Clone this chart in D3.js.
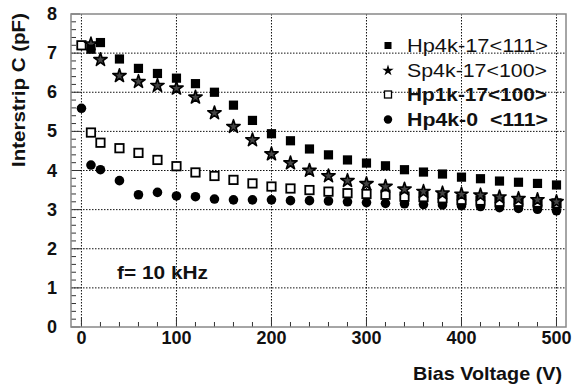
<!DOCTYPE html>
<html><head><meta charset="utf-8">
<script src="https://cdn.jsdelivr.net/npm/d3@7"></script>
<style>body{margin:0;background:#fff;} svg{display:block;font-family:"Liberation Sans",Arial,sans-serif;}</style>
</head><body>
<svg id="c" width="581" height="388"></svg>
<script>
// ---- data ----
const xHp4k17 = [10,20,40,60,80,100,120,140,160,180,200,220,240,260,280,300,320,340,360,380,400,420,440,460,480,500];
const yHp4k17 = [7.10,7.27,6.85,6.61,6.48,6.36,6.22,6.00,5.67,5.28,4.94,4.76,4.55,4.40,4.27,4.19,4.12,4.02,3.96,3.91,3.83,3.79,3.73,3.70,3.67,3.63];
const xSp4k17 = [10,20,40,60,80,100,120,140,160,180,200,220,240,260,280,300,320,340,360,380,400,420,440,460,480,500];
const ySp4k17 = [7.23,6.83,6.42,6.27,6.17,6.10,5.87,5.47,5.12,4.78,4.42,4.19,4.00,3.86,3.74,3.66,3.59,3.52,3.46,3.42,3.39,3.37,3.32,3.28,3.25,3.20];
const xHp1k17 = [0,10,20,40,60,80,100,120,140,160,180,200,220,240,260,280,300,320,340,360,380,400,420,440,460,480,500];
const yHp1k17 = [7.20,4.97,4.71,4.57,4.45,4.27,4.11,3.95,3.86,3.76,3.67,3.59,3.54,3.50,3.46,3.42,3.40,3.38,3.33,3.32,3.29,3.25,3.23,3.20,3.20,3.18,3.16];
const xHp4k0 = [0,10,20,40,60,80,100,120,140,160,180,200,220,240,260,280,300,320,340,360,380,400,420,440,460,480,500];
const yHp4k0 = [5.59,4.14,4.02,3.74,3.38,3.44,3.35,3.33,3.27,3.25,3.25,3.25,3.23,3.23,3.22,3.20,3.18,3.16,3.15,3.13,3.12,3.10,3.08,3.05,3.03,3.01,2.97];
const legendLabels = ["Hp4k-17<111>","Sp4k-17<100>","Hp1k-17<100>","Hp4k-0  <111>"];
const xTicks = [0,100,200,300,400,500];
const yTicks = [0,1,2,3,4,5,6,7,8];

// ---- layout ----
const svg = d3.select("#c");
const L=71, R=566, T=14, B=327;
const x = d3.scaleLinear().domain([-11,510]).range([L,R]);
const y = d3.scaleLinear().domain([0,8]).range([B,T]);

// grid
const g = svg.append("g");
g.selectAll(".gx").data(xTicks).enter().append("line")
  .attr("x1",d=>x(d)).attr("x2",d=>x(d)).attr("y1",T).attr("y2",B)
  .attr("stroke","#111").attr("stroke-width",1).attr("stroke-dasharray","1.5,1.5");
g.selectAll(".gy").data(yTicks.filter(d=>d>0&&d<8)).enter().append("line")
  .attr("x1",L).attr("x2",R).attr("y1",d=>y(d)).attr("y2",d=>y(d))
  .attr("stroke","#111").attr("stroke-width",1).attr("stroke-dasharray","1.5,1.5");

// ticks
const xMinor = d3.range(0,501,20);
g.selectAll(".tx").data(xMinor).enter().append("line")
  .attr("x1",d=>x(d)).attr("x2",d=>x(d)).attr("y1",B).attr("y2",d=>B-(d%100===0?9:5))
  .attr("stroke","#333").attr("stroke-width",1);
const yMinor = d3.range(0,8.001,0.2);
g.selectAll(".ty").data(yMinor).enter().append("line")
  .attr("y1",d=>y(d)).attr("y2",d=>y(d)).attr("x1",L).attr("x2",d=>L+(Math.abs(d-Math.round(d))<1e-6?9:5))
  .attr("stroke","#333").attr("stroke-width",1);

// frame
svg.append("rect").attr("x",L).attr("y",T).attr("width",R-L).attr("height",B-T)
  .attr("fill","none").attr("stroke","#888").attr("stroke-width",1.5);

// tick labels
svg.selectAll(".xl").data(xTicks).enter().append("text")
  .attr("x",d=>x(d)).attr("y",344).attr("text-anchor","middle")
  .attr("font-size",18).attr("font-weight","bold").attr("fill","#111").text(d=>d);
svg.selectAll(".yl").data(yTicks).enter().append("text")
  .attr("x",57).attr("y",d=>y(d)+6).attr("text-anchor","end")
  .attr("font-size",18).attr("font-weight","bold").attr("fill","#111").text(d=>d);

// axis titles
svg.append("text").attr("x",562).attr("y",380).attr("text-anchor","end")
  .attr("font-size",19).attr("font-weight","bold").attr("fill","#111")
  .attr("textLength",149).attr("lengthAdjust","spacingAndGlyphs").text("Bias Voltage (V)");
svg.append("text").attr("transform","translate(25,13) rotate(-90)").attr("text-anchor","end")
  .attr("font-size",19).attr("font-weight","bold").attr("fill","#111")
  .attr("textLength",154).attr("lengthAdjust","spacingAndGlyphs").text("Interstrip C (pF)");

svg.append("text").attr("x",117).attr("y",278.5)
  .attr("font-size",19).attr("font-weight","bold").attr("fill","#111")
  .attr("textLength",91).attr("lengthAdjust","spacingAndGlyphs").text("f= 10 kHz");

// markers
const star = d3.symbol().type(d3.symbolStar);
function pts(xs){return xs.map((v,i)=>i);}
const mk = svg.append("g");
// circles
mk.selectAll(".c").data(pts(xHp4k0)).enter().append("circle")
  .attr("cx",i=>x(xHp4k0[i])).attr("cy",i=>y(yHp4k0[i])).attr("r",4.8).attr("fill","#000");
// open squares
mk.selectAll(".os").data(pts(xHp1k17)).enter().append("rect")
  .attr("x",i=>x(xHp1k17[i])-4.2).attr("y",i=>y(yHp1k17[i])-4.2).attr("width",8.4).attr("height",8.4)
  .attr("fill","#fff").attr("stroke","#000").attr("stroke-width",1.8);
// stars
mk.selectAll(".st").data(pts(xSp4k17)).enter().append("path")
  .attr("d",star.size(55)).attr("transform",i=>`translate(${x(xSp4k17[i])},${y(ySp4k17[i])})`)
  .attr("fill","#444").attr("stroke","#000").attr("stroke-width",1.6).attr("stroke-linejoin","round");
// filled squares
mk.selectAll(".fs").data(pts(xHp4k17)).enter().append("rect")
  .attr("x",i=>x(xHp4k17[i])-4.6).attr("y",i=>y(yHp4k17[i])-4.6).attr("width",9.2).attr("height",9.2)
  .attr("fill","#000");

// legend
const lg = svg.append("g");
const ly = [45.5, 70.5, 94.5, 119.5];
const lx = 388;
lg.append("rect").attr("x",lx-3.5).attr("y",ly[0]-3.5).attr("width",7).attr("height",7).attr("fill","#000");
lg.append("path").attr("d",star.size(40)).attr("transform",`translate(${lx},${ly[1]})`).attr("fill","#000");
lg.append("rect").attr("x",lx-3.5).attr("y",ly[2]-3.5).attr("width",7).attr("height",7).attr("fill","#fff").attr("stroke","#000").attr("stroke-width",1.3);
lg.append("circle").attr("cx",lx).attr("cy",ly[3]).attr("r",4.2).attr("fill","#000");
const weights = ["normal","normal","bold","bold"];
const widths = [141,140,140,141];
lg.selectAll(".lt").data(legendLabels).enter().append("text")
  .attr("x",407).attr("y",(d,i)=>ly[i]+6.8)
  .attr("font-size",19).attr("font-weight",(d,i)=>weights[i]).attr("fill","#111")
  .attr("xml:space","preserve").style("white-space","pre")
  .attr("textLength",(d,i)=>widths[i]).attr("lengthAdjust","spacingAndGlyphs")
  .text(d=>d);
</script>
</body></html>
